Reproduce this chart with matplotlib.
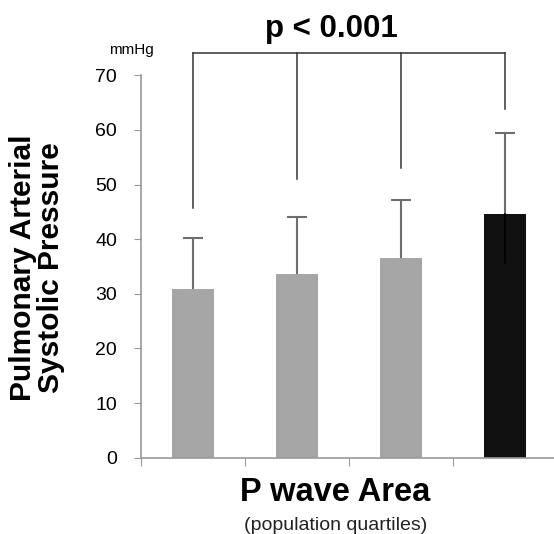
import matplotlib
matplotlib.use("Agg")
import matplotlib.pyplot as plt
import numpy as np

plt.rcParams["font.family"] = ["Liberation Sans", "DejaVu Sans"]

# Data
quartiles = ["Q1", "Q2", "Q3", "Q4"]
means = [30.8, 33.6, 36.5, 44.6]
err_upper = [9.4, 10.4, 10.7, 14.8]
err_lower = [0.0, 0.0, 0.0, 8.9]
bar_colors = ["#a6a6a6", "#a6a6a6", "#a6a6a6", "#111111"]
bracket_level = 74.0
bracket_drops = [45.7, 51.1, 53.0, 63.9]
y_ticks = [0, 10, 20, 30, 40, 50, 60, 70]

fig = plt.figure(figsize=(5.54, 5.34), dpi=100)
ax = fig.add_axes([0.254, 0.143, 0.746, 0.716])

x = np.arange(len(quartiles))
ax.bar(x, means, width=0.4, color=bar_colors, zorder=2)

# upper error bars only (gray)
eb = ax.errorbar(x, means, yerr=[np.zeros(len(x)), err_upper], fmt="none",
                 ecolor="#6e6e6e", elinewidth=1.5, capsize=7.5, capthick=1.5,
                 zorder=3)
eb[1][0].set_visible(False)  # hide the lower caps
# lower error on the dark bar (barely visible)
for xi, m, lo in zip(x, means, err_lower):
    if lo > 0:
        ax.plot([xi, xi], [m - lo, m], color="#000000", lw=1.2, zorder=3)

# significance bracket
ax.plot([x[0], x[-1]], [bracket_level, bracket_level], color="#333333",
        lw=1.1, clip_on=False, zorder=4)
for xi, yd in zip(x, bracket_drops):
    ax.plot([xi, xi], [yd, bracket_level], color="#333333", lw=1.1,
            clip_on=False, zorder=4)
ax.text(1.33, 78.5, "p < 0.001", ha="center", va="center", fontsize=22.5,
        fontweight="bold")
ax.text(-0.593, 74.6, "mmHg", ha="center", va="center", fontsize=11)

ax.set_ylim(0, 70)
ax.set_xlim(-0.5, 3.47)
ax.set_yticks(y_ticks)
ax.set_yticklabels([str(v) for v in y_ticks], fontsize=14)
ax.set_xticks([-0.5, 0.5, 1.5, 2.5])
ax.set_xticklabels([])
ax.tick_params(axis="y", direction="out", length=5, color="#999999", pad=12)
ax.tick_params(axis="x", direction="out", length=6, color="#999999")

for s in ["top", "right"]:
    ax.spines[s].set_visible(False)
for s in ["left", "bottom"]:
    ax.spines[s].set_color("#999999")
    ax.spines[s].set_linewidth(1.2)

fig.text(0.066, 0.498, "Pulmonary Arterial\nSystolic Pressure", rotation=90,
         ha="center", va="center", fontsize=21.5, fontweight="bold",
         linespacing=1.0)
fig.text(0.605, 0.077, "P wave Area", ha="center", va="center", fontsize=23.5,
         fontweight="bold")
fig.text(0.605, 0.015, "(population quartiles)", ha="center", va="center",
         fontsize=14, color="#222222")

fig.savefig("out.png", dpi=100, facecolor="white")
